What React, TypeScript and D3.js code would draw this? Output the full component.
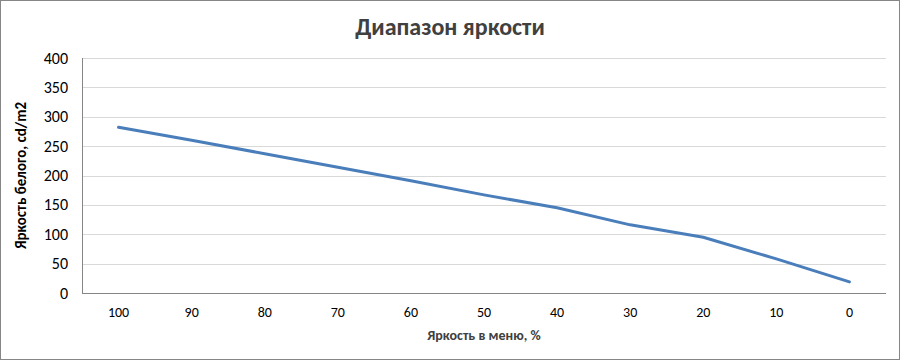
import React from "react";
import * as d3 from "d3";

const categories = ["100", "90", "80", "70", "60", "50", "40", "30", "20", "10", "0"];
const values = [282, 260, 237, 214, 191, 167, 145, 116, 95, 58, 19];
const yTicks = [0, 50, 100, 150, 200, 250, 300, 350, 400];
const title = "Диапазон яркости";
const xTitle = "Яркость в меню, %";
const yTitle = "Яркость белого, cd/m2";

export default function App() {
  const W = 900, H = 360;
  const m = { left: 82, right: 14, top: 58, bottom: 67 };
  const x = d3.scaleBand().domain(categories).range([m.left, W - m.right]);
  const y = d3.scaleLinear().domain([0, 400]).range([H - m.bottom, m.top]);
  const line = d3.line<number>()
    .x((_, i) => (x(categories[i]) as number) + x.bandwidth() / 2)
    .y((d) => y(d));
  const font = "Calibri, Carlito, Lato, sans-serif";
  return (
    <svg width={W} height={H} style={{ position: "absolute", left: 0, top: 0 }} fontFamily={font}>
      <rect x={0.5} y={0.5} width={W - 1} height={H - 1} fill="#fff" stroke="#868686" />
      <text x={450} y={35} textAnchor="middle" fontSize={24} fontWeight="bold" fill="#404040">{title}</text>
      {yTicks.map((t) => (
        <g key={t}>
          {t > 0 && (
            <line x1={m.left} x2={W - m.right} y1={Math.round(y(t)) + 0.5} y2={Math.round(y(t)) + 0.5} stroke="#d9d9d9" />
          )}
          <text x={m.left - 14} y={y(t)} dy="0.35em" textAnchor="end" fontSize={16} fill="#000">{t}</text>
        </g>
      ))}
      <line x1={m.left + 0.5} x2={m.left + 0.5} y1={m.top} y2={H - m.bottom} stroke="#868686" />
      <line x1={m.left} x2={W - m.right} y1={Math.round(y(0)) + 0.5} y2={Math.round(y(0)) + 0.5} stroke="#868686" />
      {categories.map((c) => (
        <text key={c} x={(x(c) as number) + x.bandwidth() / 2} y={317} textAnchor="middle" fontSize={14} fill="#000">{c}</text>
      ))}
      <path d={line(values) || ""} fill="none" stroke="#4a7ebb" strokeWidth={3} strokeLinejoin="round" strokeLinecap="round" />
      <text x={484} y={340} textAnchor="middle" fontSize={14} fontWeight="bold" fill="#404040">{xTitle}</text>
      <text transform={`translate(26, ${(m.top + H - m.bottom) / 2}) rotate(-90)`} textAnchor="middle" fontSize={15} fontWeight="bold" fill="#000">{yTitle}</text>
    </svg>
  );
}
